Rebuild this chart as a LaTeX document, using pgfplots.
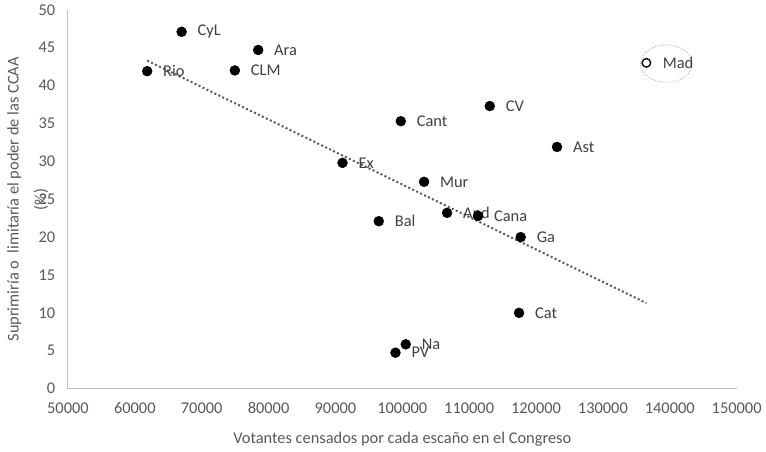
\documentclass[border=0pt]{standalone}
\usepackage{pgfplots}
\pgfplotsset{compat=1.18}
\usepackage{fontspec}
\setmainfont{Carlito}
\definecolor{txt}{HTML}{595959}
\definecolor{lbl}{HTML}{404040}
\definecolor{axln}{HTML}{BFBFBF}
\newcommand{\chartfont}{\fontsize{12.3}{14.5}\selectfont}

\begin{document}
\begin{tikzpicture}
\begin{axis}[
    scale only axis,
    width=501.75pt, height=284.25pt,
    xmin=50000, xmax=150000,
    ymin=0, ymax=50,
    xtick={50000,60000,70000,80000,90000,100000,110000,120000,130000,140000,150000},
    xticklabels={50000,60000,70000,80000,90000,100000,110000,120000,130000,140000,150000},
    ytick={0,5,10,15,20,25,30,35,40,45,50},
    yticklabels={0,5,10,15,20,25,30,35,40,45,50},
    scaled ticks=false,
    axis x line*=bottom, axis y line*=left,
    axis line style={draw=axln, line width=0.75pt, -},
    major tick length=0pt,
    tick label style={font=\chartfont, text=txt},
    xticklabel style={yshift=-7pt},
    yticklabel style={xshift=-6pt},
    label style={font=\chartfont, text=txt},
    xlabel={Votantes censados por cada escaño en el Congreso},
    xlabel style={yshift=-7pt},
    ylabel={Suprimiría o\ \ limitaría el poder de las CCAA\\[6pt](\%)},
    ylabel style={align=center},
    ylabel shift=-14pt,
    clip=false,
]
% trend line
\addplot[color=txt, line width=1.5pt, dash pattern=on 1.5pt off 1.8pt] coordinates {(61850,43.3) (136500,11.3)};
% regions
\addplot[only marks, mark=*, mark size=3.7pt, color=black,
    nodes near coords, point meta=explicit symbolic,
    every node near coord/.append style={anchor=west, xshift=8.5pt, font=\chartfont, text=lbl}]
  table[meta=lab] {
x y lab
61850 41.9 Rio
67000 47.1 CyL
78450 44.7 Ara
74960 42.0 CLM
113080 37.3 CV
99780 35.3 Cant
123140 31.9 Ast
91060 29.8 Ex
103260 27.3 Mur
96490 22.1 Bal
106700 23.2 And
111330 22.8 Cana
117710 20.0 Ga
117460 10.0 Cat
100520 5.85 Na
98980 4.75 PV
};
% Madrid, open marker
\addplot[only marks, mark=o, mark size=3.2pt, line width=1pt, color=black,
    nodes near coords, point meta=explicit symbolic,
    every node near coord/.append style={anchor=west, xshift=8.5pt, font=\chartfont, text=lbl}]
  table[meta=lab] {
x y lab
136500 43.0 Mad
};
\draw[axln!70!black, line width=0.5pt, densely dotted] (axis cs:139500,42.9) ellipse [x radius=19.5pt, y radius=14pt];
% white margin on the left, as in the reference
\path (axis description cs:-0.1016,0.5);
\end{axis}
\end{tikzpicture}
\end{document}
